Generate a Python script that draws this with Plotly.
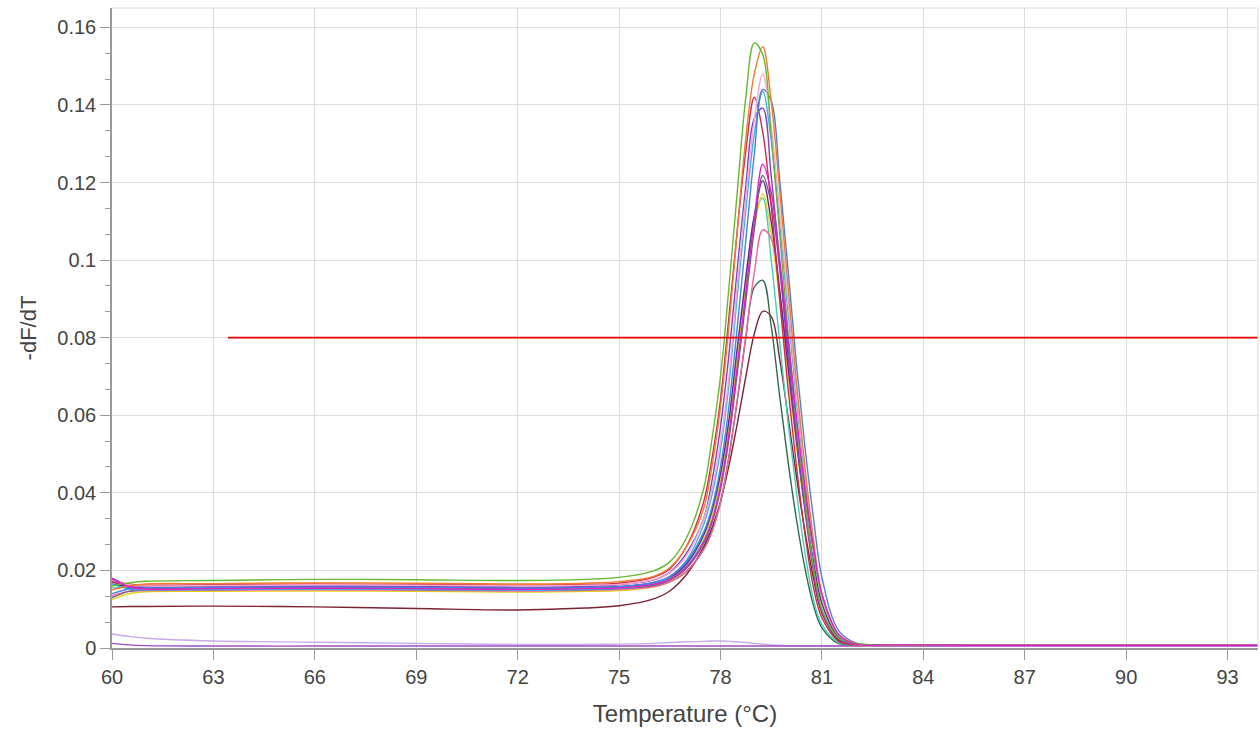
import plotly.graph_objects as go

# Temperature grid (°C)
temperature = [60, 60.5, 61, 63, 66, 69, 72, 74, 75, 76, 76.5, 77, 77.5, 77.75, 78, 78.25, 78.5, 78.75,
               79, 79.25, 79.5, 79.75, 80, 80.25, 80.5, 80.75, 81, 81.5, 82, 83, 86, 90, 93.9]

# -dF/dT series
lavender = [0.0036, 0.0030, 0.0025, 0.0018, 0.0015, 0.0012, 0.0009, 0.0009, 0.0010, 0.0012, 0.0014, 0.0016, 0.0017, 0.0018, 0.0018, 0.0017, 0.0016, 0.0014,
            0.0012, 0.0010, 0.0008, 0.0007, 0.0006, 0.0006, 0.0006, 0.0006, 0.0006, 0.0006, 0.0006, 0.0006, 0.0006, 0.0006, 0.0006]
purple_flat = [0.0012, 0.0008, 0.0006, 0.0005, 0.0005, 0.0005, 0.0005, 0.0005, 0.0005, 0.0005, 0.0005, 0.0005, 0.0005, 0.0005, 0.0005, 0.0005, 0.0005, 0.0005,
               0.0005, 0.0005, 0.0005, 0.0005, 0.0005, 0.0005, 0.0005, 0.0005, 0.0005, 0.0005, 0.0005, 0.0005, 0.0005, 0.0005, 0.0005]
maroon = [0.0106, 0.0107, 0.0107, 0.0108, 0.0106, 0.0102, 0.0098, 0.0103, 0.0109, 0.0126, 0.0147, 0.0190, 0.0260, 0.0310, 0.0378, 0.0470, 0.0580, 0.0700,
          0.0810, 0.0868, 0.0855, 0.0745, 0.0595, 0.0440, 0.0300, 0.0180, 0.0090, 0.0020, 0.0009, 0.0008, 0.0007, 0.0007, 0.0007]
dark_green = [0.0172, 0.0155, 0.0150, 0.0151, 0.0152, 0.0151, 0.0148, 0.0150, 0.0152, 0.0160, 0.0171, 0.0198, 0.0254, 0.0303, 0.0375, 0.0495, 0.0640, 0.0800,
              0.0930, 0.0948, 0.0830, 0.0650, 0.0480, 0.0330, 0.0205, 0.0110, 0.0052, 0.0011, 0.0008, 0.0008, 0.0007, 0.0007, 0.0007]
teal = [0.0155, 0.0157, 0.0155, 0.0156, 0.0157, 0.0156, 0.0154, 0.0156, 0.0158, 0.0167, 0.0181, 0.0215, 0.0286, 0.0347, 0.0437, 0.0568, 0.0750, 0.0940,
        0.1110, 0.1160, 0.1000, 0.0790, 0.0580, 0.0400, 0.0245, 0.0125, 0.0060, 0.0014, 0.0008, 0.0008, 0.0007, 0.0007, 0.0007]
yellow = [0.0125, 0.0140, 0.0145, 0.0146, 0.0147, 0.0146, 0.0144, 0.0146, 0.0148, 0.0157, 0.0172, 0.0207, 0.0279, 0.0341, 0.0434, 0.0568, 0.0753, 0.0929,
          0.1083, 0.1171, 0.1068, 0.0898, 0.0703, 0.0517, 0.0355, 0.0216, 0.0112, 0.0026, 0.0008, 0.0008, 0.0007, 0.0007, 0.0007]
pink = [0.0135, 0.0146, 0.0148, 0.0149, 0.0150, 0.0149, 0.0147, 0.0149, 0.0151, 0.0158, 0.0170, 0.0198, 0.0253, 0.0300, 0.0376, 0.0491, 0.0643, 0.0805,
        0.0967, 0.1078, 0.1056, 0.0913, 0.0737, 0.0550, 0.0390, 0.0253, 0.0138, 0.0033, 0.0010, 0.0008, 0.0007, 0.0007, 0.0007]
dark_purple = [0.0165, 0.0158, 0.0155, 0.0156, 0.0157, 0.0156, 0.0154, 0.0156, 0.0158, 0.0168, 0.0182, 0.0218, 0.0292, 0.0355, 0.0450, 0.0588, 0.0777, 0.0957,
               0.1115, 0.1205, 0.1099, 0.0924, 0.0724, 0.0532, 0.0365, 0.0223, 0.0115, 0.0027, 0.0009, 0.0008, 0.0007, 0.0007, 0.0007]
grey_purple = [0.0130, 0.0146, 0.0150, 0.0151, 0.0152, 0.0151, 0.0149, 0.0151, 0.0153, 0.0162, 0.0175, 0.0206, 0.0269, 0.0323, 0.0409, 0.0539, 0.0712, 0.0895,
               0.1079, 0.1218, 0.1146, 0.0979, 0.0777, 0.0578, 0.0403, 0.0253, 0.0135, 0.0034, 0.0010, 0.0008, 0.0007, 0.0007, 0.0007]
violet = [0.0180, 0.0162, 0.0158, 0.0159, 0.0160, 0.0159, 0.0157, 0.0159, 0.0163, 0.0175, 0.0195, 0.0245, 0.0333, 0.0432, 0.0570, 0.0757, 0.0981, 0.1193,
          0.1365, 0.1392, 0.1217, 0.0990, 0.0750, 0.0538, 0.0354, 0.0198, 0.0092, 0.0023, 0.0009, 0.0008, 0.0007, 0.0007, 0.0007]
red = [0.0170, 0.0165, 0.0162, 0.0163, 0.0165, 0.0164, 0.0162, 0.0164, 0.0167, 0.0182, 0.0204, 0.0263, 0.0376, 0.0489, 0.0640, 0.0854, 0.1080, 0.1282,
       0.1420, 0.1330, 0.1140, 0.0900, 0.0667, 0.0466, 0.0293, 0.0156, 0.0078, 0.0017, 0.0008, 0.0008, 0.0007, 0.0007, 0.0007]
sky = [0.0165, 0.0152, 0.0150, 0.0151, 0.0152, 0.0151, 0.0149, 0.0151, 0.0154, 0.0165, 0.0184, 0.0227, 0.0318, 0.0395, 0.0511, 0.0679, 0.0911, 0.1130,
       0.1324, 0.1435, 0.1310, 0.1094, 0.0864, 0.0634, 0.0432, 0.0259, 0.0130, 0.0032, 0.0010, 0.0008, 0.0007, 0.0007, 0.0007]
blue = [0.0140, 0.0152, 0.0155, 0.0156, 0.0157, 0.0156, 0.0154, 0.0156, 0.0158, 0.0169, 0.0185, 0.0223, 0.0298, 0.0363, 0.0467, 0.0623, 0.0831, 0.1052,
        0.1273, 0.1440, 0.1411, 0.1208, 0.0975, 0.0728, 0.0517, 0.0335, 0.0182, 0.0044, 0.0013, 0.0008, 0.0007, 0.0007, 0.0007]
light_pink = [0.0175, 0.0163, 0.0160, 0.0161, 0.0163, 0.0162, 0.0160, 0.0162, 0.0164, 0.0176, 0.0194, 0.0239, 0.0332, 0.0411, 0.0530, 0.0701, 0.0939, 0.1163,
              0.1361, 0.1480, 0.1347, 0.1125, 0.0888, 0.0651, 0.0444, 0.0266, 0.0133, 0.0033, 0.0010, 0.0008, 0.0007, 0.0007, 0.0007]
orange = [0.0150, 0.0160, 0.0165, 0.0166, 0.0168, 0.0167, 0.0165, 0.0167, 0.0171, 0.0184, 0.0207, 0.0262, 0.0359, 0.0470, 0.0622, 0.0830, 0.1079, 0.1315,
          0.1480, 0.1550, 0.1410, 0.1180, 0.0930, 0.0680, 0.0465, 0.0280, 0.0140, 0.0034, 0.0012, 0.0008, 0.0007, 0.0007, 0.0007]
magenta = [0.0178, 0.0158, 0.0152, 0.0153, 0.0154, 0.0153, 0.0151, 0.0153, 0.0155, 0.0164, 0.0177, 0.0210, 0.0274, 0.0329, 0.0418, 0.0551, 0.0728, 0.0917,
           0.1105, 0.1247, 0.1174, 0.1003, 0.0796, 0.0592, 0.0413, 0.0260, 0.0139, 0.0035, 0.0010, 0.0008, 0.0007, 0.0007, 0.0007]
green = [0.0160, 0.0168, 0.0172, 0.0174, 0.0177, 0.0176, 0.0174, 0.0177, 0.0182, 0.0198, 0.0222, 0.0285, 0.0410, 0.0540, 0.0700, 0.0930, 0.1180, 0.1420,
         0.1560, 0.1530, 0.1320, 0.1070, 0.0810, 0.0580, 0.0380, 0.0210, 0.0100, 0.0025, 0.0012, 0.0008, 0.0007, 0.0007, 0.0007]

series = [
    (lavender, "#c9a8ec"),
    (purple_flat, "#a04cc0"),
    (maroon, "#7d2233"),
    (dark_green, "#2d6b4e"),
    (teal, "#3fd3b2"),
    (yellow, "#e6d21c"),
    (pink, "#f2639c"),
    (dark_purple, "#5c2d8a"),
    (grey_purple, "#6b6090"),
    (violet, "#7f3fc8"),
    (red, "#d6264a"),
    (sky, "#3fb2e2"),
    (blue, "#4d7fdc"),
    (light_pink, "#f5a8cc"),
    (orange, "#f27a2c"),
    (green, "#63b92f"),
    (magenta, "#e21fc6"),
]

# Threshold line
threshold_value = 0.08
threshold_x = [63.43, 93.9]

x_ticks = [60, 63, 66, 69, 72, 75, 78, 81, 84, 87, 90, 93]
y_ticks = [0, 0.02, 0.04, 0.06, 0.08, 0.1, 0.12, 0.14, 0.16]
y_labels = ["0", "0.02", "0.04", "0.06", "0.08", "0.1", "0.12", "0.14", "0.16"]

fig = go.Figure()
for vals, col in series:
    fig.add_trace(go.Scatter(x=temperature, y=vals, mode="lines",
                             line=dict(color=col, width=1.4, shape="spline", smoothing=1.0),
                             hoverinfo="skip", showlegend=False))

fig.add_trace(go.Scatter(x=threshold_x, y=[threshold_value, threshold_value], mode="lines",
                         line=dict(color="#e60000", width=1.8), showlegend=False, hoverinfo="skip"))

font_family = "Liberation Sans, Arial, sans-serif"
fig.update_layout(
    width=1260, height=734,
    margin=dict(l=112, r=2, t=8, b=86),
    paper_bgcolor="white", plot_bgcolor="white",
    font=dict(family=font_family, color="#444444"),
    xaxis=dict(
        range=[60, 93.9], tickvals=x_ticks, ticktext=[str(v) for v in x_ticks],
        showgrid=True, gridcolor="#dcdcdc", gridwidth=1,
        showline=True, linecolor="#999999", linewidth=1.5,
        ticks="outside", ticklen=10, tickcolor="#999999",
        tickfont=dict(size=20, color="#444444"),
        title=dict(text="Temperature (°C)", font=dict(size=24, color="#444444"), standoff=18),
        zeroline=False,
    ),
    yaxis=dict(
        range=[0, 0.165], tickvals=y_ticks, ticktext=y_labels,
        showgrid=True, gridcolor="#dcdcdc", gridwidth=1,
        showline=True, linecolor="#999999", linewidth=1.5,
        ticks="outside", ticklen=10, tickcolor="#999999",
        tickfont=dict(size=20, color="#444444"),
        minor=dict(dtick=0.02 / 3, tick0=0, ticks="outside", ticklen=5, tickcolor="#999999", showgrid=False),
        title=dict(text="-dF/dT", font=dict(size=22, color="#444444"), standoff=15),
        zeroline=False,
    ),
    shapes=[
        dict(type="line", xref="paper", yref="paper", x0=0, x1=1, y0=1, y1=1,
             line=dict(color="#dcdcdc", width=1)),
        dict(type="line", xref="paper", yref="paper", x0=1, x1=1, y0=0, y1=1,
             line=dict(color="#dcdcdc", width=1)),
    ],
)

fig.write_html("out.html")
